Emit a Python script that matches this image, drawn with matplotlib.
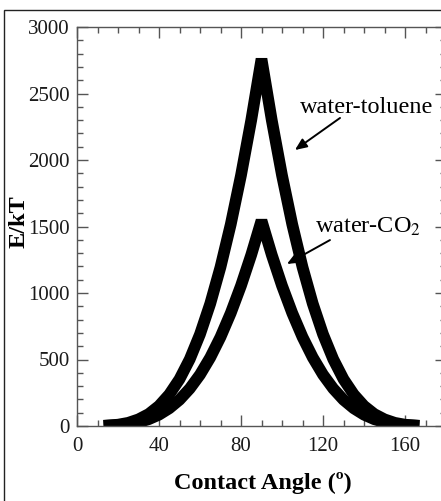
import matplotlib
matplotlib.use("Agg")
import matplotlib.pyplot as plt
from matplotlib.patches import Rectangle
from matplotlib.ticker import MultipleLocator

plt.rcParams["font.family"] = ["Liberation Serif", "DejaVu Serif"]
plt.rcParams["mathtext.fontset"] = "stix"

# Contact angle (degrees) and interfacial adsorption energy (E/kT)
angle = [13, 20, 25, 30, 35, 40, 45, 50, 55, 60, 65, 70, 75, 80, 85, 90,
         95, 100, 105, 110, 115, 120, 125, 130, 135, 140, 145, 150, 155, 160, 167]
energy_toluene = [2, 10, 24, 50, 90, 151, 237, 352, 502, 690, 920, 1195, 1516, 1885, 2300, 2760,
                  2300, 1885, 1516, 1195, 920, 690, 502, 352, 237, 151, 90, 50, 24, 10, 2]
energy_co2 = [1, 6, 14, 28, 51, 85, 133, 197, 281, 386, 515, 669, 849, 1055, 1287, 1545,
              1287, 1055, 849, 669, 515, 386, 281, 197, 133, 85, 51, 28, 14, 6, 1]

x_ticks = [0, 40, 80, 120, 160]
y_ticks = [0, 500, 1000, 1500, 2000, 2500, 3000]

fig = plt.figure(figsize=(4.41, 5.01), dpi=100)
fig.patch.set_facecolor("white")

# thin frame around the figure
fig.patches.append(Rectangle((4 / 441, -0.1), 1.2, 1.1 - 10 / 501,
                             transform=fig.transFigure, fill=False,
                             edgecolor="#222222", linewidth=1.0))

ax = fig.add_axes([77 / 441, 75 / 501, 369 / 441, 399 / 501])

line_kw = dict(color="black", linewidth=8.4, solid_joinstyle="bevel",
               solid_capstyle="butt")
ax.plot(angle, energy_toluene, **line_kw)
ax.plot(angle, energy_co2, **line_kw)

ax.set_xlim(0, 180)
ax.set_ylim(0, 3000)
ax.set_xticks(x_ticks)
ax.set_yticks(y_ticks)
ax.xaxis.set_minor_locator(MultipleLocator(10))
ax.yaxis.set_minor_locator(MultipleLocator(100))

spine_color = "#555555"
for s in ax.spines.values():
    s.set_color(spine_color)
    s.set_linewidth(1.0)

ax.tick_params(which="both", direction="in", top=True, right=True,
               color=spine_color, width=1.0, labelsize=15, labelcolor="#1a1a1a")
ax.tick_params(which="major", length=8)
ax.tick_params(which="minor", length=4)
ax.tick_params(axis="x", which="major", pad=8)
ax.tick_params(axis="y", which="major", pad=5)

ax.set_xlabel("Contact Angle (º)", fontsize=17.5, fontweight="bold", va="center")
ax.set_ylabel("E/kT", fontsize=17.5, fontweight="bold", va="center")
ax.xaxis.set_label_coords(0.503, -0.142)
ax.yaxis.set_label_coords(-0.158, 0.511)

# annotations
ax.text(108.8, 2353, "water-toluene", fontsize=17.5, ha="left", va="baseline")
ax.annotate("", xy=(106.3, 2075), xytext=(128.3, 2316),
            arrowprops=dict(arrowstyle="-|>,head_length=0.7,head_width=0.3",
                            color="black", lw=1.4, shrinkA=0, shrinkB=0))

ax.text(116.1, 1451, "water-CO$_2$", fontsize=17.5, ha="left", va="baseline")
ax.annotate("", xy=(102.4, 1218), xytext=(123.4, 1398),
            arrowprops=dict(arrowstyle="-|>,head_length=0.7,head_width=0.3",
                            color="black", lw=1.4, shrinkA=0, shrinkB=0))

fig.savefig("out.png", dpi=100)
